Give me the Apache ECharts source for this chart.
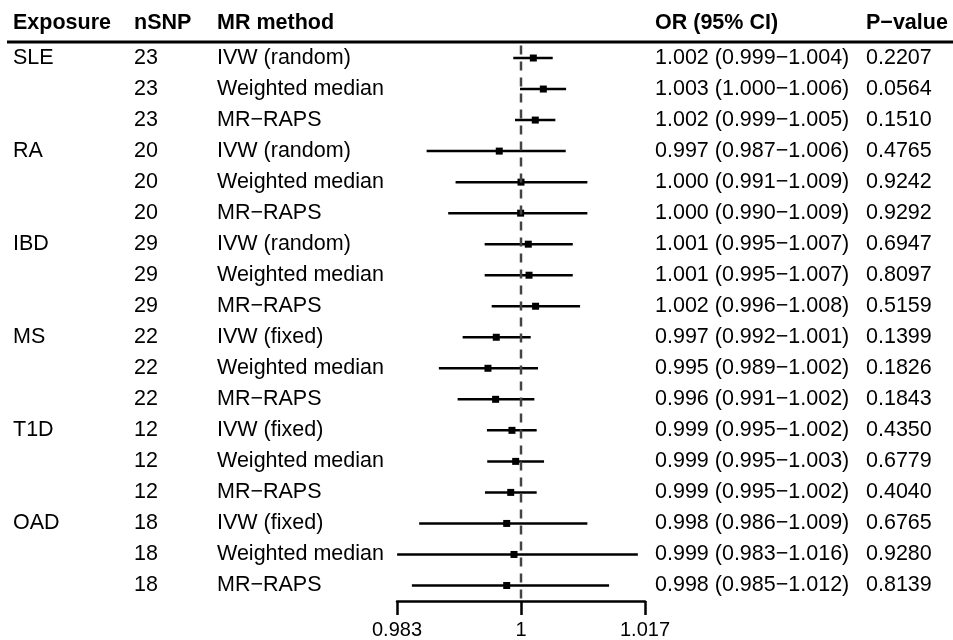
<!DOCTYPE html>
<html><head><meta charset="utf-8">
<script src="https://cdn.jsdelivr.net/npm/echarts@6/dist/echarts.min.js"></script>
<style>html,body{margin:0;padding:0;background:#fff}#c{width:953px;height:640px}</style>
</head><body><div id="c"></div>
<script>
const headers = ['Exposure', 'nSNP', 'MR method', 'OR (95% CI)', 'P\u2212value'];
const exposures = ['SLE','','','RA','','','IBD','','','MS','','','T1D','','','OAD','',''];
const nsnp = ['23','23','23','20','20','20','29','29','29','22','22','22','12','12','12','18','18','18'];
const methods = ['IVW (random)','Weighted median','MR\u2212RAPS','IVW (random)','Weighted median','MR\u2212RAPS','IVW (random)','Weighted median','MR\u2212RAPS','IVW (fixed)','Weighted median','MR\u2212RAPS','IVW (fixed)','Weighted median','MR\u2212RAPS','IVW (fixed)','Weighted median','MR\u2212RAPS'];
const orText = ['1.002 (0.999\u22121.004)','1.003 (1.000\u22121.006)','1.002 (0.999\u22121.005)','0.997 (0.987\u22121.006)','1.000 (0.991\u22121.009)','1.000 (0.990\u22121.009)','1.001 (0.995\u22121.007)','1.001 (0.995\u22121.007)','1.002 (0.996\u22121.008)','0.997 (0.992\u22121.001)','0.995 (0.989\u22121.002)','0.996 (0.991\u22121.002)','0.999 (0.995\u22121.002)','0.999 (0.995\u22121.003)','0.999 (0.995\u22121.002)','0.998 (0.986\u22121.009)','0.999 (0.983\u22121.016)','0.998 (0.985\u22121.012)'];
const pText = ['0.2207','0.0564','0.1510','0.4765','0.9242','0.9292','0.6947','0.8097','0.5159','0.1399','0.1826','0.1843','0.4350','0.6779','0.4040','0.6765','0.9280','0.8139'];
const orEst = [1.00169,1.00306,1.00196,0.99702,1.0000,0.99995,1.0010,1.0011,1.0020,0.99661,0.99547,0.99652,0.99876,0.99927,0.99859,0.99804,0.99904,0.99804];
const orLow = [0.99894,0.99986,0.99918,0.98706,0.99103,0.99002,0.99502,0.99502,0.99598,0.9920,0.98874,0.99131,0.99533,0.99537,0.99506,0.98604,0.98302,0.98504];
const orUp = [1.00435,1.00618,1.00471,1.00613,1.0091,1.0091,1.0071,1.0071,1.0081,1.00133,1.00233,1.00183,1.00215,1.00316,1.00215,1.0091,1.01602,1.01208];
const xTicks = [0.983, 1, 1.017];
const xTickLabels = ['0.983', '1', '1.017'];
const refValue = 1;

const FONT = '"Liberation Sans", Arial, Helvetica, sans-serif';
const colX = [13, 134, 217, 655, 866];
const chart = echarts.init(document.getElementById('c'), null, {renderer: 'canvas'});

const rowData = orEst.map((v, i) => [i, orLow[i], v, orUp[i]]);
const textData = orEst.map((v, i) => [i, refValue]);

chart.setOption({
  animation: false,
  backgroundColor: '#fff',
  grid: {left: 397, width: 248, top: 42.5, height: 563, containLabel: false},
  xAxis: {
    type: 'value', min: 0.983, max: 1.017, position: 'bottom',
    axisLine: {show: true, onZero: false, lineStyle: {color: '#000', width: 2.5}},
    axisTick: {show: true, customValues: xTicks, length: 14, lineStyle: {color: '#000', width: 2.5}},
    axisLabel: {customValues: xTicks, color: '#000', fontSize: 20, fontFamily: FONT, margin: 19,
      formatter: v => { const k = xTicks.findIndex(t => Math.abs(t - v) < 1e-9); return k >= 0 ? xTickLabels[k] : ''; }},
    splitLine: {show: false}
  },
  yAxis: {type: 'value', min: -0.5, max: 17.5, inverse: true, show: false},
  graphic: [
    {type: 'line', shape: {x1: 7, y1: 42, x2: 953, y2: 42}, style: {stroke: '#000', lineWidth: 3}},
    ...headers.map((h, k) => ({type: 'text', left: colX[k], top: 12,
      style: {text: h, fill: '#000', font: 'bold 21.5px ' + FONT}}))
  ],
  series: [
    {
      type: 'custom', data: rowData, encode: {x: [1, 2, 3], y: 0}, clip: false, z: 2,
      renderItem: (params, api) => {
        const i = api.value(0);
        const lo = api.coord([api.value(1), i]);
        const hi = api.coord([api.value(3), i]);
        const c = api.coord([api.value(2), i]);
        return {type: 'group', children: [
          {type: 'line', shape: {x1: lo[0], y1: lo[1], x2: hi[0], y2: hi[1]}, style: {stroke: '#000', lineWidth: 2.5}},
          {type: 'rect', shape: {x: c[0] - 3.5, y: c[1] - 3.5, width: 7, height: 7}, style: {fill: '#000'}}
        ]};
      }
    },
    {
      type: 'line', data: [[refValue, -0.4], [refValue, 17.5]], symbol: 'none', z: 5,
      lineStyle: {color: '#444', width: 2.5, type: [9, 7]}, silent: true
    },
    {
      type: 'custom', data: textData, encode: {x: 1, y: 0}, clip: false, z: 3,
      renderItem: (params, api) => {
        const i = api.value(0);
        const y = api.coord([refValue, i])[1];
        const cols = [exposures[i], nsnp[i], methods[i], orText[i], pText[i]];
        return {type: 'group', children: cols.map((t, k) => ({
          type: 'text', x: colX[k], y: y,
          style: {text: t, fill: '#000', font: '21.5px ' + FONT, verticalAlign: 'middle', align: 'left'}
        }))};
      }
    }
  ]
});
</script></body></html>
